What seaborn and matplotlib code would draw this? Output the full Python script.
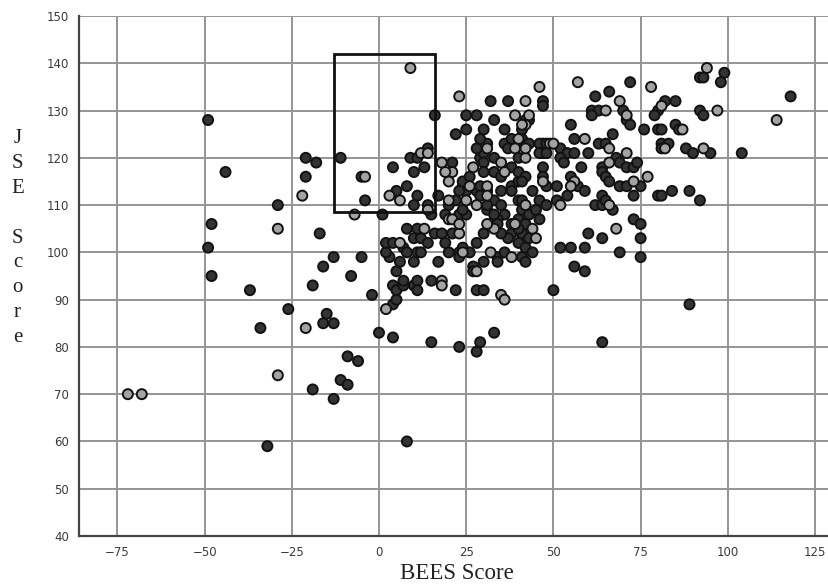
import numpy as np
import pandas as pd
import matplotlib
matplotlib.use("Agg")
import matplotlib.pyplot as plt
import seaborn as sns
from matplotlib.patches import Rectangle

sns.set_style("white")

# ---------------------------------------------------------------------------
# Data: (BEES score, JSE score), split by marker fill
# ---------------------------------------------------------------------------
dark_pts = [
    # left, sparse
    (-49, 128), (-44, 117), (-48, 106), (-49, 101), (-48, 95), (-37, 92), (-34, 84),
    (-32, 59), (-29, 110), (-26, 88), (-21, 120), (-18, 119), (-21, 116), (-19, 93),
    (-19, 71), (-17, 104), (-16, 97), (-15, 87), (-16, 85), (-13, 85), (-13, 99),
    (-13, 69), (-11, 120), (-11, 73), (-9, 72), (-9, 78), (-6, 77), (-8, 95),
    (-5, 116), (-4, 111), (-5, 99), (-2, 91), (0, 83),
    # inside the box
    (16, 129), (4, 118), (10, 117), (13, 118), (8, 114), (11, 112), (9, 120), (11, 120),
    (14, 122), (5, 113), (10, 110), (14, 110), (1, 108), (15, 108),
    # 0..25, lower
    (4, 89), (5, 90), (4, 82), (15, 81), (23, 80), (8, 60), (4, 93), (5, 92), (7, 93),
    (7, 94), (10, 93), (11, 94), (11, 92), (15, 94), (22, 92), (5, 96), (3, 99), (2, 100),
    (11, 100), (12, 100), (10, 98), (17, 98), (20, 100), (23, 100), (24, 101), (23, 99),
    (2, 102), (4, 102), (7, 101), (10, 103), (12, 103), (16, 104), (18, 104), (11, 105),
    (23, 108), (8, 105), (14, 102), (19, 102), (6, 98), (8, 100), (21, 104),
    # 25..60, lower
    (28, 79), (29, 81), (33, 83), (28, 92), (30, 92), (27, 97), (27, 96), (34, 99),
    (36, 100), (34, 98), (28, 102), (50, 92), (52, 101), (55, 101), (59, 101), (56, 97),
    (59, 96), (26, 100), (30, 98),
    # column around 40
    (40, 111), (41, 109), (43, 108), (40, 107), (42, 106), (41, 104), (43, 103), (40, 102),
    (42, 101), (44, 100), (41, 99), (42, 98), (38, 104), (36, 108), (37, 103), (45, 109),
    (46, 107), (35, 104), (34, 107), (30, 104),
    # middle, dense
    (24, 114), (25, 113), (28, 113), (29, 114), (31, 113), (23, 113), (22, 111), (29, 112),
    (33, 111), (38, 114), (40, 115), (38, 113), (41, 111), (29, 120), (30, 121), (31, 123),
    (29, 124), (28, 122), (33, 120), (33, 117), (38, 118), (40, 120), (36, 123), (38, 124),
    (41, 126), (37, 122), (41, 123), (22, 125), (25, 126), (30, 126), (25, 129), (28, 129),
    (43, 128), (32, 132), (37, 132), (47, 132), (47, 131), (21, 119), (24, 115), (30, 119),
    (30, 117), (35, 116), (47, 123), (47, 121), (19, 108), (25, 108), (31, 109), (35, 110),
    (17, 112), (20, 110), (24, 109), (31, 110), (33, 108), (32, 106), (34, 106), (38, 106),
    (40, 105), (26, 116), (35, 113), (44, 113), (36, 126), (33, 128),
    # 40..80
    (72, 136), (62, 133), (66, 134), (70, 130), (61, 130), (63, 130), (61, 129), (80, 130),
    (79, 129), (42, 128), (55, 127), (71, 128), (72, 127), (76, 126), (80, 126), (67, 125),
    (56, 124), (63, 123), (65, 123), (81, 123), (81, 122), (46, 123), (48, 123), (41, 124),
    (43, 123), (46, 121), (48, 121), (52, 122), (54, 121), (56, 121), (52, 120), (53, 119),
    (64, 118), (68, 120), (69, 119), (71, 118), (73, 118), (74, 119), (64, 117), (65, 116),
    (66, 115), (69, 114), (71, 114), (75, 114), (47, 118), (47, 116), (40, 117), (42, 116),
    (41, 115), (48, 114), (51, 114), (55, 116), (57, 114), (59, 113), (64, 112), (73, 112),
    (80, 112), (81, 112), (51, 111), (54, 112), (46, 111), (48, 110), (62, 110), (64, 110),
    (65, 111), (67, 109), (73, 107), (75, 106), (60, 104), (64, 103), (69, 100), (75, 103),
    (75, 99), (58, 118), (60, 121),
    # far right
    (92, 137), (93, 137), (99, 138), (98, 136), (118, 133), (82, 132), (85, 132), (92, 130),
    (93, 129), (85, 127), (86, 126), (81, 126), (83, 123), (88, 122), (90, 121), (95, 121),
    (104, 121), (84, 113), (89, 113), (92, 111), (89, 89), (64, 81),
]

light_pts = [
    (-72, 70), (-68, 70), (-29, 105), (-29, 74), (-22, 112), (-21, 84), (-7, 108), (-4, 116),
    (9, 139), (12, 121), (14, 121), (3, 112), (6, 111), (14, 109),
    (2, 88), (18, 94), (18, 93), (24, 100), (6, 102), (23, 104), (13, 105), (20, 107),
    (21, 107), (23, 106),
    (35, 91), (36, 90), (28, 96), (32, 100), (38, 99),
    (42, 110), (44, 105), (39, 106), (45, 103), (33, 105), (31, 106),
    (26, 114), (31, 114), (25, 111), (31, 112), (31, 122), (35, 119), (36, 117), (40, 124),
    (39, 122), (39, 129), (42, 127), (23, 133), (42, 132), (46, 135), (18, 119), (21, 117),
    (20, 115), (27, 118), (42, 120), (49, 123), (20, 111), (28, 110), (19, 117),
    (57, 136), (78, 135), (69, 132), (71, 129), (65, 130), (81, 131), (43, 129), (41, 127),
    (59, 124), (66, 122), (71, 121), (50, 123), (42, 122), (66, 119), (73, 115), (77, 116),
    (47, 115), (56, 115), (55, 114), (66, 110), (52, 110), (68, 105),
    (94, 139), (114, 128), (97, 130), (87, 126), (82, 122), (93, 122),
]

x_ticks = [-75, -50, -25, 0, 25, 50, 75, 100, 125]
y_ticks = [40, 50, 60, 70, 80, 90, 100, 110, 120, 130, 140, 150]

# highlighted box (BEES from/to, JSE from/to)
box_bees = (-13, 16)
box_jse = (108.5, 142)

df = pd.DataFrame(
    [(b, j, "dark") for b, j in dark_pts] + [(b, j, "light") for b, j in light_pts],
    columns=["BEES", "JSE", "fill"],
)

fig = plt.figure(figsize=(8.29, 5.85), dpi=100)
ax = fig.add_axes([0.0953, 0.0838, 0.9047, 0.8888])

ax.set_xlim(-86, 129)
ax.set_ylim(40, 150)
ax.set_xticks(x_ticks)
ax.set_yticks(y_ticks)
ax.grid(True, color="#959595", lw=1.4)
ax.set_axisbelow(True)

sns.scatterplot(data=df, x="BEES", y="JSE", hue="fill",
                palette={"dark": "#333333", "light": "#a3a3a3"},
                edgecolor="#111111", linewidth=1.4, s=52, legend=False,
                zorder=3, ax=ax)

ax.add_patch(Rectangle((box_bees[0], box_jse[0]), box_bees[1] - box_bees[0],
                       box_jse[1] - box_jse[0], fill=False, edgecolor="#111111",
                       lw=2.0, zorder=4))

for side in ["top", "right"]:
    ax.spines[side].set_visible(False)
for side in ["left", "bottom"]:
    ax.spines[side].set_color("#444444")
    ax.spines[side].set_linewidth(1.6)

ax.tick_params(length=0, labelsize=8.5, labelcolor="#3a3a3a", pad=7)
ax.set_xlabel("")
ax.set_ylabel("")

fig.text(0.551, 0.002, "BEES Score", family="Liberation Serif", fontsize=16.5,
         ha="center", va="bottom", color="#222222")
fig.text(0.021, 0.593, "J\nS\nE\n\nS\nc\no\nr\ne", family="Liberation Serif",
         fontsize=15, ha="center", va="center", linespacing=1.42, color="#222222")

plt.savefig("out.png", dpi=100)
plt.close()
